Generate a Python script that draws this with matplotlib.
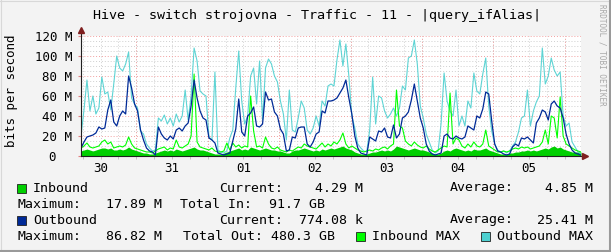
import numpy as np
import pandas as pd
import matplotlib.pyplot as plt
import matplotlib.dates as mdates
from matplotlib.ticker import MultipleLocator, FuncFormatter
from matplotlib.patches import Rectangle
from matplotlib.lines import Line2D
from matplotlib.transforms import ScaledTranslation

plt.rcParams['font.family'] = ['DejaVu Sans Mono']

# hourly samples, week window
times = pd.date_range("2021-10-30 05:25", periods=169, freq="h")

# bits/s in millions
inbound = [5, 6, 7, 6, 5, 6, 7, 8, 8, 7, 8, 6, 6, 7, 6, 7, 9, 7, 6, 5,
           4, 3, 3, 2, 2, 3, 4,
           5, 6, 5, 6, 5, 7, 6, 5, 6, 7, 8, 9, 7, 6, 6, 5,
           4, 3, 2, 2, 2, 3, 4, 5,
           6, 7, 8, 6, 7, 6, 9, 8, 7, 6, 7, 8, 7, 6, 6, 5, 5, 4,
           3, 3,
           5, 6, 6, 7, 8, 7, 6, 5, 6, 5, 7, 6, 7, 8, 7, 8, 9, 10, 8, 7,
           6, 4, 3, 2, 2, 2, 3, 4, 4,
           5, 6, 5, 6, 5, 7, 10, 9, 8, 7, 6, 7, 8, 7, 6, 6, 5, 4,
           3, 2, 2, 3,
           5, 6, 5, 7, 8, 7, 6, 5, 6, 5, 7, 6, 6, 7, 8, 6, 5,
           4, 3, 2, 2, 2, 3, 3, 4, 4,
           5, 5, 6, 5, 6, 5, 6, 7, 8, 7, 9, 10, 8, 9, 7, 6, 5, 4, 4, 4, 4]

outbound = [8, 14, 19, 20, 21, 23, 29, 27, 28, 46, 56, 34, 30, 40, 45, 42, 80, 68, 52, 45,
            26, 16, 8, 5, 4, 1, 29, 22, 18, 16, 20, 17, 26, 28, 25, 30, 33, 50, 76, 58,
            45, 38, 36, 18, 16, 13, 3, 2, 1, 2, 3, 15, 27, 57, 24, 20, 40, 43, 49, 30,
            29, 32, 64, 56, 57, 44, 40, 27, 22, 5, 6, 19, 18, 28, 29, 29, 12, 9, 14, 22,
            24, 45, 43, 55, 55, 56, 58, 63, 68, 76, 58, 42, 20, 8, 3, 2, 1, 19, 17, 15,
            25, 24, 28, 19, 18, 31, 18, 22, 38, 40, 44, 56, 72, 55, 38, 28, 12, 5, 2, 1,
            2, 3, 20, 22, 18, 17, 20, 18, 17, 19, 30, 28, 26, 40, 38, 47, 64, 62, 35, 12,
            5, 4, 2, 1, 2, 9, 12, 10, 18, 17, 19, 16, 13, 33, 38, 46, 44, 36, 52, 55,
            50, 48, 38, 22, 12, 6, 3, 2, 0.8]

inbound_max = [8, 10, 13, 9, 8, 9, 10, 14, 16, 12, 14, 8, 9, 10, 9, 11, 19, 12, 8, 7,
               6, 5, 4, 4, 3, 5, 7, 8, 9, 6, 8, 7, 16, 9, 8, 10, 12, 20, 82, 14,
               9, 8, 7, 6, 8, 5, 4, 4, 5, 13, 6, 13, 9, 11, 8, 10, 9, 60, 25, 9,
               10, 8, 19, 12, 8, 7, 9, 6, 5, 4, 6, 5, 7, 9, 8, 12, 10, 9, 8, 7,
               10, 13, 9, 12, 10, 14, 12, 16, 23, 12, 8, 10, 8, 6, 5, 4, 5, 6, 5, 7,
               6, 8, 9, 7, 10, 12, 66, 30, 28, 15, 12, 10, 14, 11, 9, 8, 10, 7, 5, 4,
               6, 8, 10, 9, 63, 12, 18, 16, 10, 8, 12, 9, 14, 10, 9, 12, 26, 10, 8, 6,
               4, 4, 5, 4, 5, 7, 8, 7, 9, 8, 9, 7, 8, 9, 10, 14, 26, 12, 40, 38,
               18, 59, 20, 12, 10, 8, 6, 5, 4]

outbound_max = [20, 46, 76, 45, 60, 42, 48, 79, 62, 64, 46, 72, 100, 88, 85, 92, 104, 58, 52, 48,
                25, 22, 12, 8, 5, 6, 38, 35, 41, 32, 38, 30, 42, 34, 40, 66, 36, 60, 108, 95,
                65, 62, 60, 19, 16, 84, 6, 4, 3, 5, 18, 26, 68, 105, 55, 32, 40, 80, 88, 52,
                95, 36, 88, 97, 92, 80, 74, 55, 42, 16, 66, 26, 24, 38, 55, 48, 26, 22, 28, 40,
                30, 55, 50, 70, 72, 70, 96, 116, 90, 112, 80, 40, 28, 12, 8, 5, 4, 26, 79, 32,
                60, 58, 45, 38, 42, 48, 40, 48, 70, 66, 98, 100, 116, 92, 50, 38, 22, 14, 6, 3,
                5, 33, 83, 55, 45, 40, 66, 30, 40, 30, 55, 48, 83, 65, 62, 82, 98, 50, 25, 12,
                6, 4, 5, 3, 5, 10, 14, 24, 38, 40, 66, 30, 45, 54, 60, 108, 72, 80, 98, 86,
                80, 84, 40, 30, 33, 14, 9, 4, 2]

y_ticks = [0, 20, 40, 60, 80, 100, 120]

fig = plt.figure(figsize=(6.11, 2.52), dpi=100, facecolor='#F3F3F3')
W, H = 611, 252
def fx(x): return x / W
def fy(y): return 1 - y / H

ax = fig.add_axes([fx(81), fy(156), 500 / W, 120 / H])
ax.set_facecolor('white')

M = 1e6
ax.fill_between(times, 0, np.array(inbound) * M, color='#00CF00', lw=0, zorder=2)
ax.plot(times, np.array(outbound_max) * M, color='#4DD0D0', lw=0.8, alpha=0.9, zorder=3)
ax.plot(times, np.array(inbound_max) * M, color='#00FF00', lw=0.8, zorder=4)
ax.plot(times, np.array(outbound) * M, color='#002A97', lw=0.9, zorder=5)

ax.set_xlim(times[0], times[-1])
ax.set_ylim(0, 120 * M)

# grid
ax.set_axisbelow(True)
grid_gray = dict(color='#CFCFCF', linestyle=(0, (1, 2)), linewidth=0.7)
grid_red = dict(color='#F2A0A0', linestyle=(0, (1, 2)), linewidth=0.7)
ax.yaxis.set_major_locator(MultipleLocator(20 * M))
ax.yaxis.set_minor_locator(MultipleLocator(5 * M))
ax.yaxis.grid(True, which='major', **grid_red)
ax.yaxis.grid(True, which='minor', **grid_gray)

ax.xaxis.remove_overlapping_locs = False
ax.xaxis.set_major_locator(mdates.HourLocator(byhour=12))
ax.xaxis.set_major_formatter(mdates.DateFormatter('%d'))
ax.xaxis.set_minor_locator(mdates.HourLocator(byhour=[0, 6, 12, 18]))
ax.xaxis.grid(False, which='major')
ax.xaxis.grid(True, which='minor', **grid_gray)
midnights = pd.date_range(times[0].normalize() + pd.Timedelta(days=1), times[-1], freq='D')
for m in midnights:
    ax.axvline(m, zorder=1, **grid_red)

ax.set_yticks([v * M for v in y_ticks])
ax.yaxis.set_major_formatter(FuncFormatter(lambda v, p: '0' if v == 0 else f'{v / M:.0f} M'))
ax.tick_params(axis='y', which='major', length=2, color='#E08080', pad=4.3, labelsize=9)
ax.tick_params(axis='y', which='minor', length=0)
ax.tick_params(axis='x', which='major', length=0, pad=4.5, labelsize=9)
ax.tick_params(axis='x', which='minor', length=2, color='#BBBBBB')

# "0" label sits two character cells left, like rrdtool's padded label
zero_lab = ax.yaxis.get_major_ticks()[0].label1
zero_lab.set_transform(zero_lab.get_transform() + ScaledTranslation(-0.165, 0, fig.dpi_scale_trans))

for s in ax.spines.values():
    s.set_visible(False)
ax.plot([0, 0], [0, 1.05], transform=ax.transAxes, color='#202020', lw=0.8, clip_on=False, zorder=6)
ax.plot([0, 1.008], [0, 0], transform=ax.transAxes, color='#202020', lw=0.8, clip_on=False, zorder=6)
ax.plot([0], [1.05], marker='^', ms=4, color='#7F1F1F', transform=ax.transAxes, clip_on=False, zorder=7)
ax.plot([1.008], [0], marker='>', ms=4, color='#7F1F1F', transform=ax.transAxes, clip_on=False, zorder=7)

# texts
fig.text(fx(317), fy(15), 'Hive - switch strojovna - Traffic - 11 - |query_ifAlias|',
         ha='center', va='center', fontsize=9.6, color='#000000')
fig.text(fx(12), fy(91), 'bits per second', rotation=90, ha='center', va='center', fontsize=9)
fig.text(fx(602), fy(4), 'RRDTOOL / TOBI OETIKER', rotation=270, ha='center', va='top',
         fontsize=5.5, color='#A8A8A8')

fs = 9.5
def swatch(x, yc, color):
    fig.add_artist(Rectangle((fx(x), fy(yc + 4.5)), 9 / W, 9 / H, transform=fig.transFigure,
                             facecolor=color, edgecolor='#202020', lw=0.6))

def t(x, yc, s, ha='left'):
    fig.text(fx(x), fy(yc), s, ha=ha, va='center', fontsize=fs, color='#000000')

rows = [188, 204, 220, 236]
swatch(17, rows[0], '#00CF00')
t(33, rows[0], 'Inbound')
t(219, rows[0], 'Current:')
t(363, rows[0], '4.29 M', 'right')
t(450, rows[0], 'Average:')
t(593, rows[0], '4.85 M', 'right')

t(18, rows[1], 'Maximum:')
t(162, rows[1], '17.89 M', 'right')
t(180, rows[1], 'Total In:')
t(325, rows[1], '91.7 GB', 'right')

swatch(17, rows[2], '#002A97')
t(33, rows[2], 'Outbound')
t(219, rows[2], 'Current:')
t(363, rows[2], '774.08 k', 'right')
t(450, rows[2], 'Average:')
t(593, rows[2], '25.41 M', 'right')

t(18, rows[3], 'Maximum:')
t(162, rows[3], '86.82 M', 'right')
t(183, rows[3], 'Total Out: 480.3 GB')
swatch(356, rows[3], '#00FF00')
t(372, rows[3], 'Inbound MAX')
swatch(481, rows[3], '#4DD0D0')
t(497, rows[3], 'Outbound MAX')

# frame
fig.add_artist(Line2D([0, 1], [fy(0.5), fy(0.5)], color='#D8D8D8', lw=0.8))
fig.add_artist(Line2D([fx(0.5), fx(0.5)], [0, 1], color='#D8D8D8', lw=0.8))
fig.add_artist(Line2D([0, 1], [fy(251), fy(251)], color='#9A9A9A', lw=1.5))
fig.add_artist(Line2D([fx(610), fx(610)], [0, 1], color='#9A9A9A', lw=1.5))

fig.savefig('out.png', dpi=100, facecolor=fig.get_facecolor())
